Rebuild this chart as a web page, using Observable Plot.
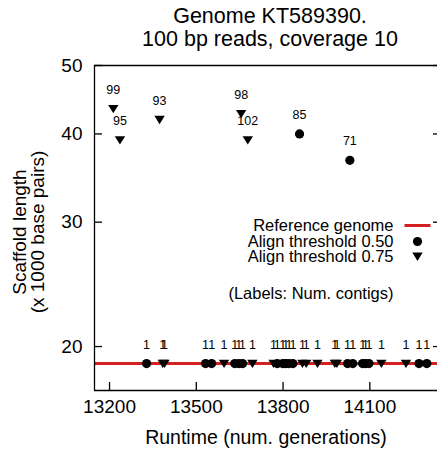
<!DOCTYPE html>
<html>
<head>
<meta charset="utf-8">
<script src="https://cdn.jsdelivr.net/npm/d3@7"></script>
<script src="https://cdn.jsdelivr.net/npm/@observablehq/plot@0.6"></script>
<style>
  html, body { margin: 0; padding: 0; background: #fff; overflow: hidden; }
  svg { font-family: "Liberation Sans", Arial, sans-serif; }
</style>
</head>
<body>
<div id="chart"></div>
<script>
// ---- data ----
const refLength = 18.92; // x1000 bp
// Align threshold 0.50 (circles)
const circX = [13857, 14031, 13328, 13532, 13553, 13633, 13647, 13660, 13780, 13799, 13809, 13820, 13834, 14023, 14041, 14075, 14085, 14097, 14270, 14297];
const circY = [40.0, 36.7, refLength, refLength, refLength, refLength, refLength, refLength, refLength, refLength, refLength, refLength, refLength, refLength, refLength, refLength, refLength, refLength, refLength, refLength];
const circN = [85, 71, 1, 1, 1, 1, 1, 1, 1, 1, 1, 1, 1, 1, 1, 1, 1, 1, 1, 1];
// Align threshold 0.75 (triangles)
const triX = [13213, 13236, 13373, 13655, 13678, 13384, 13390, 13596, 13694, 13767, 13867, 13880, 13919, 13979, 13986, 14140, 14225];
const triY = [43.4, 39.2, 41.9, 42.7, 39.2, refLength, refLength, refLength, refLength, refLength, refLength, refLength, refLength, refLength, refLength, refLength, refLength];
const triN = [99, 95, 93, 98, 102, 1, 1, 1, 1, 1, 1, 1, 1, 1, 1, 1, 1];

const xTicks = [13200, 13500, 13800, 14100];
const yTicks = [20, 30, 40, 50];
const xDomain = [13148, 14334];
const yDomain = [17.33, 50];

const titleLines = ["Genome KT589390.", "100 bp reads, coverage 10"];
const legendLabels = ["Reference genome", "Align threshold 0.50", "Align threshold 0.75"];
const noteLabel = "(Labels: Num. contigs)";

const circles = circX.map((x, i) => ({x, y: circY[i], n: circN[i]}));
const triangles = triX.map((x, i) => ({x, y: triY[i], n: triN[i]}));

// ---- layout ----
const W = 437, H = 456, ML = 94, MR = 0, MT = 65, MB = 66;
const PW = W - ML - MR, PH = H - MT - MB;

const triDown = {
  draw(ctx, size) {
    const r = Math.sqrt(size / Math.PI);
    ctx.moveTo(-r, -0.75 * r);
    ctx.lineTo(r, -0.75 * r);
    ctx.lineTo(0, 0.85 * r);
    ctx.closePath();
  }
};
const hLine = {
  draw(ctx) { ctx.moveTo(-13, 0); ctx.lineTo(13, 0); }
};

const red = "#d42020";
const font = "Liberation Sans, Arial, sans-serif";
const legY = [225, 241, 256, 293];

const plot = Plot.plot({
  width: W, height: H,
  marginLeft: ML, marginRight: MR, marginTop: MT, marginBottom: MB,
  style: {fontFamily: font, background: "#fff"},
  x: {domain: xDomain, axis: null},
  y: {type: "log", domain: yDomain, axis: null},
  marks: [
    // reference line
    Plot.ruleY([refLength], {stroke: red, strokeWidth: 3}),
    // frame (left, top, bottom)
    Plot.ruleX([xDomain[0]], {stroke: "#000", strokeWidth: 1.3}),
    Plot.ruleY(yDomain, {stroke: "#000", strokeWidth: 1.3}),
    // inward ticks
    Plot.tickY(yTicks, {y: d => d, insetRight: PW - 8, stroke: "#000", strokeWidth: 1.3}),
    Plot.tickY(yTicks, {y: d => d, insetLeft: PW - 4, stroke: "#000", strokeWidth: 1.3}),
    Plot.tickX(xTicks, {x: d => d, insetTop: PH - 8, stroke: "#000", strokeWidth: 1.3}),
    // tick labels
    Plot.text(xTicks, {x: d => d, frameAnchor: "bottom", dy: 22, fontSize: 19, fill: "#000", text: d => String(d)}),
    Plot.text(yTicks, {y: d => d, frameAnchor: "left", dx: -12, textAnchor: "end", fontSize: 19, fill: "#000", text: d => String(d)}),
    // axis titles
    Plot.text(["Runtime (num. generations)"], {frameAnchor: "bottom", dy: 53, fontSize: 19.5, fill: "#000"}),
    Plot.text(["Scaffold length\n(x 1000 base pairs)"], {frameAnchor: "left", dx: -65, dy: 4, rotate: -90, textAnchor: "middle", lineAnchor: "middle", fontSize: 19, lineHeight: 0.95, fill: "#000"}),
    // title
    Plot.text([titleLines[0]], {frameAnchor: "top", dx: 4, dy: 16 - MT, lineAnchor: "middle", fontSize: 21.5, fill: "#000"}),
    Plot.text([titleLines[1]], {frameAnchor: "top", dx: 4, dy: 39 - MT, lineAnchor: "middle", fontSize: 21.5, fill: "#000"}),
    // data
    Plot.dot(circles, {x: "x", y: "y", r: 4.6, fill: "#000", stroke: null}),
    Plot.dot(triangles, {x: "x", y: "y", r: 5.2, symbol: triDown, fill: "#000", stroke: null}),
    Plot.text(circles, {x: "x", y: "y", text: "n", dy: -19, fontSize: 12.5, fill: "#000"}),
    Plot.text(triangles, {x: "x", y: "y", text: "n", dy: -19, fontSize: 12.5, fill: "#000"}),
    // legend
    Plot.text([legendLabels[0]], {frameAnchor: "top-right", dx: -(W - 393), dy: legY[0] - MT, textAnchor: "end", fontSize: 16.5, fill: "#000", lineAnchor: "middle"}),
    Plot.text([legendLabels[1]], {frameAnchor: "top-right", dx: -(W - 393), dy: legY[1] - MT, textAnchor: "end", fontSize: 16.5, fill: "#000", lineAnchor: "middle"}),
    Plot.text([legendLabels[2]], {frameAnchor: "top-right", dx: -(W - 393), dy: legY[2] - MT, textAnchor: "end", fontSize: 16.5, fill: "#000", lineAnchor: "middle"}),
    Plot.text([noteLabel], {frameAnchor: "top-right", dx: -(W - 393), dy: legY[3] - MT, textAnchor: "end", fontSize: 16.5, fill: "#000", lineAnchor: "middle"}),
    Plot.dot([0], {frameAnchor: "top-right", dx: -(W - 417), dy: legY[0] - MT, symbol: hLine, r: 5, stroke: red, strokeWidth: 3, fill: "none"}),
    Plot.dot([0], {frameAnchor: "top-right", dx: -(W - 417), dy: legY[1] - MT, r: 4.6, fill: "#000", stroke: null}),
    Plot.dot([0], {frameAnchor: "top-right", dx: -(W - 417), dy: legY[2] - MT, r: 5.2, symbol: triDown, fill: "#000", stroke: null})
  ]
});
document.getElementById("chart").appendChild(plot);
</script>
</body>
</html>
